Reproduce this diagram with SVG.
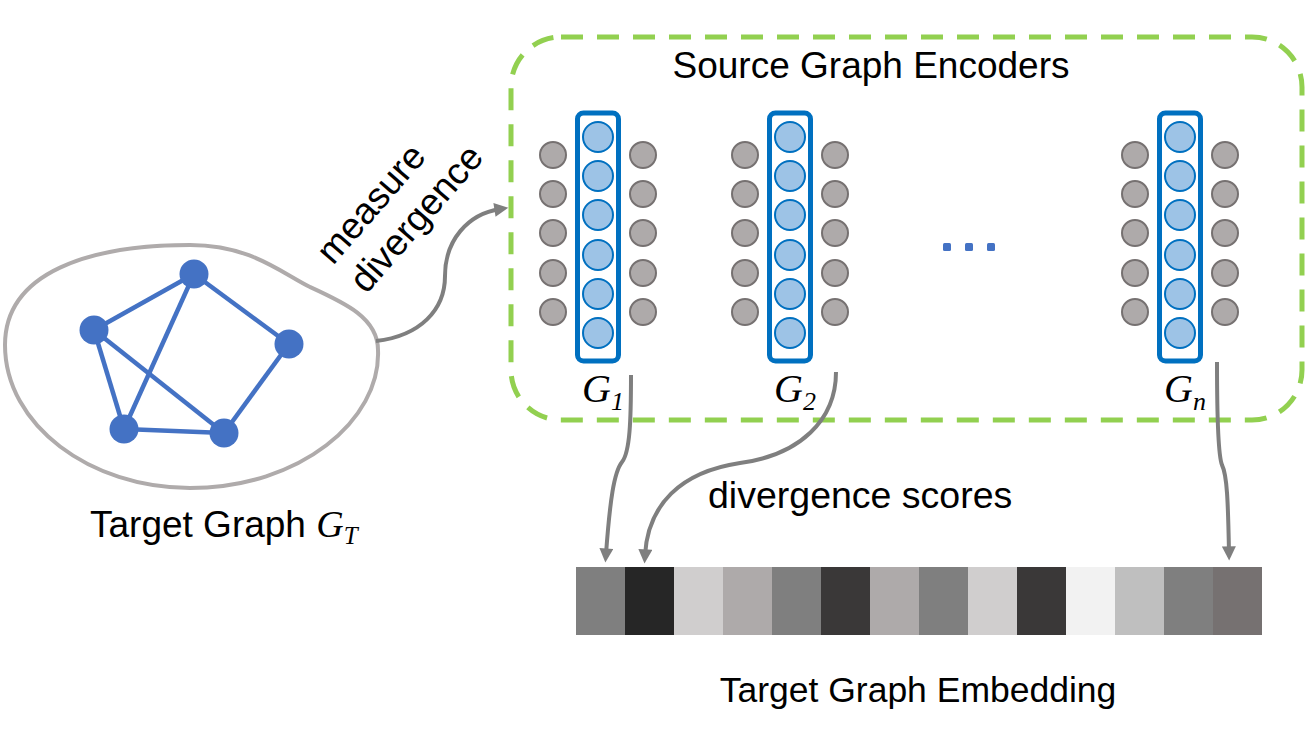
<svg xmlns="http://www.w3.org/2000/svg" width="1306" height="733" viewBox="0 0 1306 733">
<defs>
<style>
.lbl{font-family:"Liberation Sans",Arial,sans-serif;font-size:37px;fill:#000}
.math{font-family:"Liberation Serif","Times New Roman",serif;font-style:italic;fill:#000}
.edge{stroke:#4472C4;stroke-width:4.5;fill:none}
.gnode{fill:#4472C4}
.conn{stroke:#7F7F7F;stroke-width:4;fill:none;marker-end:url(#ah)}
.col{fill:#fff;stroke:#0070C0;stroke-width:5}
.bc{fill:#9DC3E6;stroke:#0070C0;stroke-width:2}
.gc{fill:#AEAAAA;stroke:#767171;stroke-width:2}
.dot{fill:#4472C4}
</style>
<marker id="ah" viewBox="0 0 10 10" refX="4" refY="5" markerUnits="userSpaceOnUse" markerWidth="15" markerHeight="14" orient="auto">
<path d="M0,0 L10,5 L0,10 z" fill="#7F7F7F"/>
</marker>
<g id="column">
<circle class="gc" cx="-45" cy="155" r="13"/><circle class="gc" cx="-45" cy="194" r="13"/><circle class="gc" cx="-45" cy="233" r="13"/><circle class="gc" cx="-45" cy="273" r="13"/><circle class="gc" cx="-45" cy="312" r="13"/>
<circle class="gc" cx="45" cy="155" r="13"/><circle class="gc" cx="45" cy="194" r="13"/><circle class="gc" cx="45" cy="233" r="13"/><circle class="gc" cx="45" cy="273" r="13"/><circle class="gc" cx="45" cy="312" r="13"/>
<rect class="col" x="-20.5" y="113" width="41" height="248" rx="6"/>
<circle class="bc" cx="0" cy="137" r="15"/><circle class="bc" cx="0" cy="176" r="15"/><circle class="bc" cx="0" cy="215" r="15"/><circle class="bc" cx="0" cy="255" r="15"/><circle class="bc" cx="0" cy="294" r="15"/><circle class="bc" cx="0" cy="333" r="15"/>
</g>
</defs>
<rect width="1306" height="733" fill="#fff"/>

<g id="target-graph">
<path d="M378 350 C381 420 300 488 190 488 C90 488 5 425 5 345 C5 272 90 245 190 245 C250 245 280 272 310 287 C345 303 378 318 378 350 Z" fill="none" stroke="#AFABAB" stroke-width="4"/>
<line class="edge" x1="194" y1="274" x2="94" y2="330"/>
<line class="edge" x1="194" y1="274" x2="289" y2="344"/>
<line class="edge" x1="194" y1="274" x2="124" y2="429"/>
<line class="edge" x1="94" y1="330" x2="124" y2="429"/>
<line class="edge" x1="94" y1="330" x2="224" y2="433"/>
<line class="edge" x1="124" y1="429" x2="224" y2="433"/>
<line class="edge" x1="289" y1="344" x2="224" y2="433"/>
<circle class="gnode" cx="194" cy="274" r="14.5"/>
<circle class="gnode" cx="94" cy="330" r="14.5"/>
<circle class="gnode" cx="289" cy="344" r="14.5"/>
<circle class="gnode" cx="124" cy="429" r="14.5"/>
<circle class="gnode" cx="224" cy="433" r="14.5"/>
<text class="lbl" x="90" y="537">Target Graph <tspan class="math" font-size="38">G</tspan><tspan class="math" font-size="25" dy="7">T</tspan></text>
</g>

<g id="encoders">
<rect x="511" y="37" width="791" height="383" rx="50" fill="none" stroke="#92D050" stroke-width="5" stroke-dasharray="22 14"/>
<text class="lbl" x="871" y="78" text-anchor="middle">Source Graph Encoders</text>
</g>

<g id="encoder-g1">
<use href="#column" x="598" y="0"/>
<text class="math" x="582" y="402" font-size="40">G<tspan font-size="26" dy="8">1</tspan></text>
</g>
<g id="encoder-g2">
<use href="#column" x="790" y="0"/>
<text class="math" x="774" y="402" font-size="40">G<tspan font-size="26" dy="8">2</tspan></text>
</g>
<g id="ellipsis">
<rect class="dot" x="943" y="243" width="8" height="8" rx="1.5"/>
<rect class="dot" x="965" y="243" width="8" height="8" rx="1.5"/>
<rect class="dot" x="987" y="243" width="8" height="8" rx="1.5"/>
</g>
<g id="encoder-gn">
<use href="#column" x="1180" y="0"/>
<text class="math" x="1164" y="402" font-size="40">G<tspan font-size="26" dy="8">n</tspan></text>
</g>

<g id="embedding">
<rect x="576" y="567" width="49" height="68" fill="#7F7F7F"/>
<rect x="625" y="567" width="49" height="68" fill="#262626"/>
<rect x="674" y="567" width="49" height="68" fill="#D0CECE"/>
<rect x="723" y="567" width="49" height="68" fill="#AEAAAA"/>
<rect x="772" y="567" width="49" height="68" fill="#7F7F7F"/>
<rect x="821" y="567" width="49" height="68" fill="#3A3838"/>
<rect x="870" y="567" width="49" height="68" fill="#AEAAAA"/>
<rect x="919" y="567" width="49" height="68" fill="#7F7F7F"/>
<rect x="968" y="567" width="49" height="68" fill="#D0CECE"/>
<rect x="1017" y="567" width="49" height="68" fill="#3A3838"/>
<rect x="1066" y="567" width="49" height="68" fill="#F2F2F2"/>
<rect x="1115" y="567" width="49" height="68" fill="#BFBFBF"/>
<rect x="1164" y="567" width="49" height="68" fill="#7F7F7F"/>
<rect x="1213" y="567" width="49" height="68" fill="#767171"/>
<text class="lbl" x="918" y="702" text-anchor="middle" font-size="35.5" style="font-size:35.5px">Target Graph Embedding</text>
</g>

<g id="connectors">
<path class="conn" d="M376 341 C420 336 445 310 445 276 C445 240 468 214 500 209"/>
<path class="conn" d="M631 375 C631 420 630 452 622 462 C614 472 610 500 606 554"/>
<path class="conn" d="M836 372 C836 420 800 455 740 463 C680 472 648 505 645 555"/>
<path class="conn" d="M1217 362 C1217 420 1218 455 1222 465 C1227 475 1228 500 1229 552"/>
<text class="lbl" x="708" y="508" style="font-size:37.5px">divergence scores</text>
<g transform="translate(333 266) rotate(-49)">
<text class="lbl" x="0" y="0">measure</text>
<text class="lbl" x="0" y="44">divergence</text>
</g>
</g>
</svg>
